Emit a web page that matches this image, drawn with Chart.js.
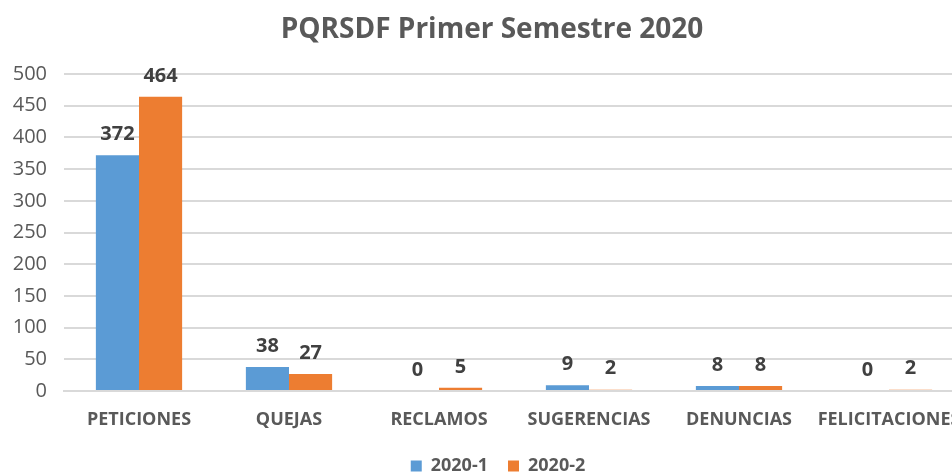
<!DOCTYPE html>
<html>
<head>
<meta charset="utf-8">
<script src="https://cdn.jsdelivr.net/npm/chart.js@4"></script>
<style>
html, body { margin: 0; padding: 0; background: #fff; overflow: hidden; }
#wrap { width: 990px; height: 485px; }
</style>
</head>
<body>
<div id="wrap"><canvas id="barChart"></canvas></div>
<script>
// data
var categories = ['PETICIONES', 'QUEJAS', 'RECLAMOS', 'SUGERENCIAS', 'DENUNCIAS', 'FELICITACIONES'];
var serie1 = [372, 38, 0, 9, 8, 0];
var serie2 = [464, 27, 5, 2, 8, 2];
var yTicks = [0, 50, 100, 150, 200, 250, 300, 350, 400, 450, 500];

var fontFam = "'Open Sans', 'Noto Sans', sans-serif";

// simple plugin to write the value over every bar
const valueLabels = {
  id: 'valueLabels',
  afterDatasetsDraw(chart) {
    const ctx = chart.ctx;
    ctx.save();
    ctx.font = 'bold 20px ' + fontFam;
    ctx.fillStyle = '#404040';
    ctx.textAlign = 'center';
    ctx.textBaseline = 'middle';
    chart.data.datasets.forEach((ds, i) => {
      chart.getDatasetMeta(i).data.forEach((bar, j) => {
        ctx.fillText(ds.data[j], bar.x, bar.y - 21);
      });
    });
    ctx.restore();
  }
};

// nudge title and legend a bit to the right, like the original
const nudgeBoxes = {
  id: 'nudgeBoxes',
  afterLayout(chart) {
    if (chart.titleBlock) { chart.titleBlock.left += 10; chart.titleBlock.right += 10; }
    if (chart.legend) { chart.legend.left += 16; chart.legend.right += 16; }
  }
};

const ctx = document.getElementById('barChart').getContext('2d');
const myChart = new Chart(ctx, {
  type: 'bar',
  data: {
    labels: categories,
    datasets: [{
      label: '2020-1',
      data: serie1,
      backgroundColor: '#5B9BD5',
      barPercentage: 1,
      categoryPercentage: 0.575
    }, {
      label: '2020-2',
      data: serie2,
      backgroundColor: '#ED7D31',
      barPercentage: 1,
      categoryPercentage: 0.575
    }]
  },
  options: {
    responsive: true,
    maintainAspectRatio: false,
    animation: false,
    layout: { padding: { left: 0, right: 26, top: 9, bottom: 0 } },
    plugins: {
      title: {
        display: true,
        text: 'PQRSDF Primer Semestre 2020',
        color: '#595959',
        font: { family: fontFam, size: 28, weight: 'bold' },
        padding: { top: 4, bottom: 27.4 }
      },
      legend: {
        position: 'bottom',
        labels: {
          color: '#595959',
          font: { family: fontFam, size: 18, weight: 'bold' },
          boxWidth: 11,
          boxHeight: 11,
          padding: 20
        }
      },
      tooltip: { enabled: false }
    },
    scales: {
      y: {
        min: 0,
        max: 500,
        afterBuildTicks: axis => { axis.ticks = yTicks.map(v => ({ value: v })); },
        afterFit: axis => { axis.width = 64; },
        grid: { color: '#d9d9d9', lineWidth: 2, drawTicks: false },
        border: { display: false },
        ticks: {
          color: '#595959',
          font: { family: fontFam, size: 20 },
          padding: 17
        }
      },
      x: {
        afterFit: axis => { axis.height = 46; },
        grid: { display: false },
        border: { color: '#d9d9d9', width: 2 },
        ticks: {
          color: '#595959',
          font: { family: fontFam, size: 18, weight: 'bold' },
          padding: 10,
          maxRotation: 0,
          autoSkip: false
        }
      }
    }
  },
  plugins: [valueLabels, nudgeBoxes]
});
</script>
</body>
</html>
